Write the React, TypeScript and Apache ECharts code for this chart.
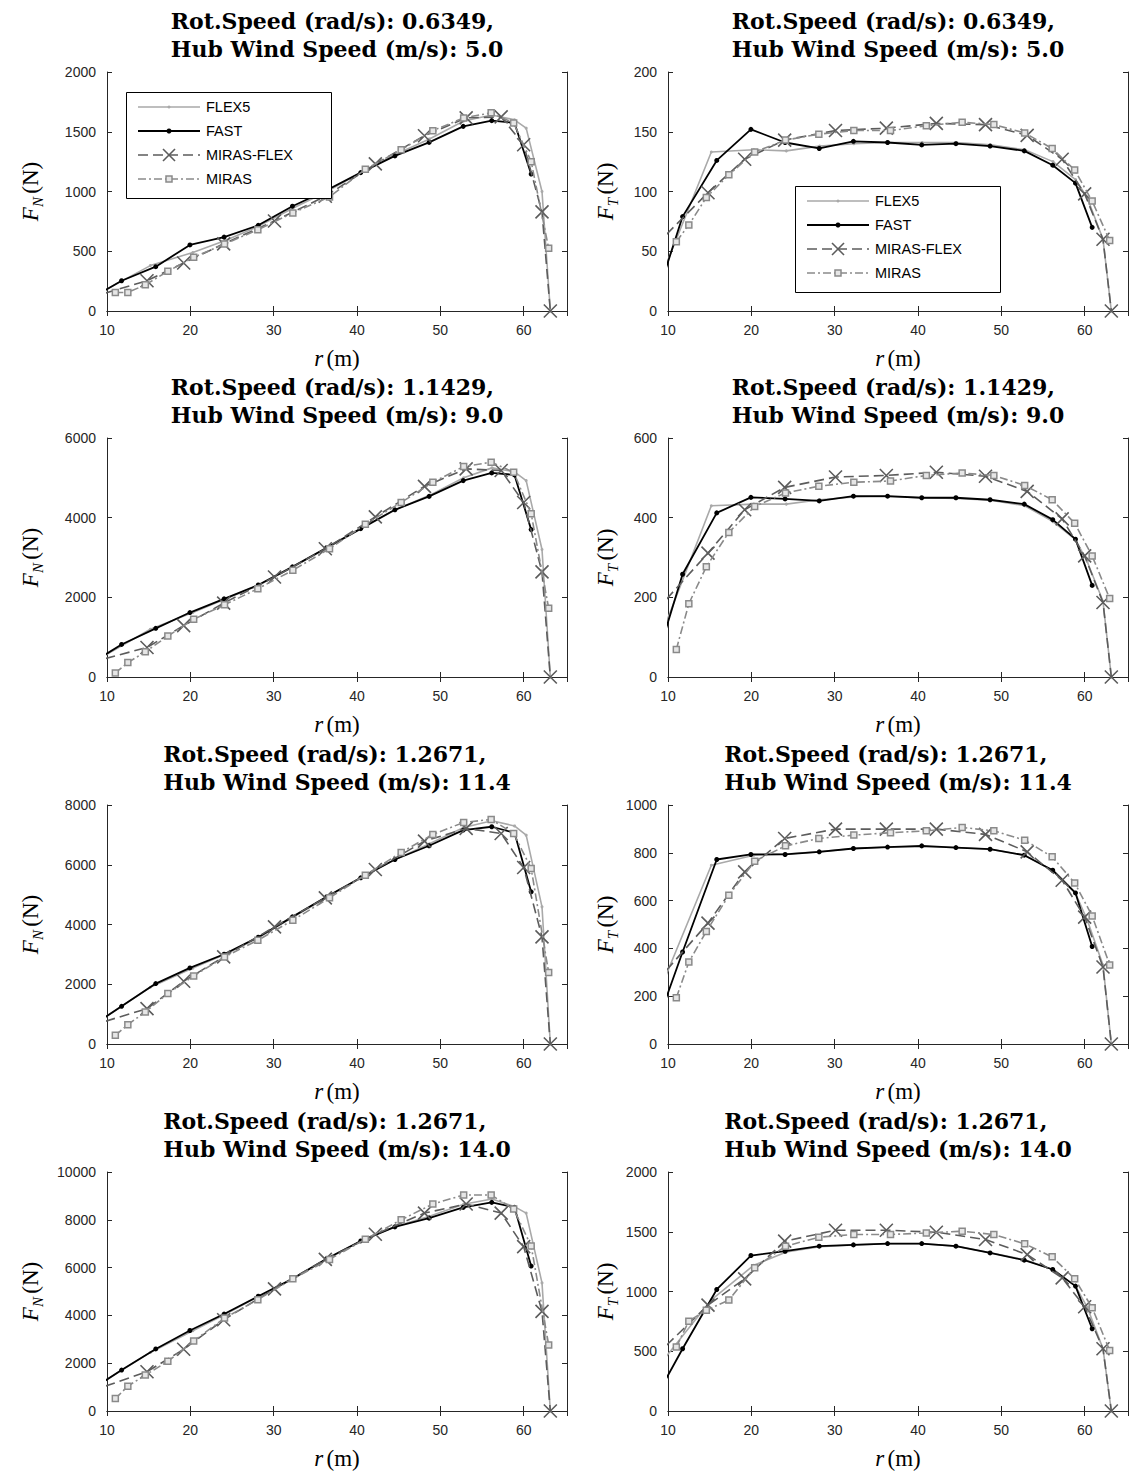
import React, { useEffect, useRef } from "react";
import * as echarts from "echarts";

// ---------- radial stations (m) of each data set ----------
const rFLEX5 = [8.0, 15.2, 20.3, 24.2, 28.2, 32.3, 36.4, 40.5, 44.6, 48.7, 52.8, 56.2, 58.9, 60.3, 62.2, 63.2];
const rFAST = [8.33, 11.75, 15.85, 19.95, 24.05, 28.15, 32.25, 36.35, 40.45, 44.55, 48.65, 52.75, 56.17, 58.9, 60.9];
const rMIRASFLEX = [9.8, 14.8, 19.2, 24.0, 30.1, 36.2, 42.2, 48.1, 53.1, 57.3, 60.0, 62.2, 63.2];
const rMIRAS = [11.0, 12.5, 14.6, 17.3, 20.4, 24.1, 28.1, 32.3, 36.7, 41.0, 45.3, 49.1, 52.8, 56.1, 58.8, 60.9, 63.0];

const seriesNames = ["FLEX5", "FAST", "MIRAS-FLEX", "MIRAS"];
const rotSpeeds = ["0.6349", "1.1429", "1.2671", "1.2671"];
const hubWindSpeeds = ["5.0", "9.0", "11.4", "14.0"];

const rMin = 10;
const rMax = 65.2;
const rStep = 10;
const fnMax = [2000, 6000, 8000, 10000];
const fnStep = [500, 2000, 2000, 2000];
const ftMax = [200, 600, 1000, 2000];
const ftStep = [50, 200, 200, 500];

// ---------- F_N (N) ----------
const fnFLEX5_5 = [107, 380, 490, 590, 710, 860, 1000, 1160, 1310, 1440, 1590, 1640, 1600, 1530, 1000, 0];
const fnFAST_5 = [116, 253, 371, 553, 618, 717, 877, 1010, 1158, 1298, 1411, 1545, 1593, 1574, 1146];
const fnMIRASFLEX_5 = [150, 253, 402, 562, 753, 960, 1231, 1467, 1616, 1624, 1391, 829, 0];
const fnMIRAS_5 = [155, 155, 219, 332, 450, 560, 680, 821, 955, 1186, 1349, 1509, 1616, 1658, 1574, 1250, 525];

const fnFLEX5_9 = [330, 1200, 1620, 1960, 2300, 2760, 3240, 3720, 4200, 4560, 5000, 5250, 5150, 4930, 3200, 0];
const fnFAST_9 = [373, 817, 1222, 1618, 1963, 2309, 2764, 3244, 3725, 4197, 4534, 4930, 5124, 5073, 3700];
const fnMIRASFLEX_9 = [463, 742, 1289, 1854, 2511, 3219, 4020, 4787, 5225, 5183, 4382, 2638, 0];
const fnMIRAS_9 = [101, 362, 632, 1028, 1449, 1812, 2216, 2680, 3219, 3834, 4382, 4888, 5284, 5393, 5140, 4100, 1728];

const fnFLEX5_11 = [568, 1900, 2540, 3000, 3560, 4240, 4910, 5560, 6180, 6700, 7250, 7470, 7300, 6990, 4590, 0];
const fnFAST_11 = [629, 1262, 2022, 2547, 3005, 3574, 4256, 4926, 5563, 6177, 6635, 7160, 7272, 7071, 5094];
const fnMIRASFLEX_11 = [760, 1184, 2100, 2915, 3921, 4893, 5842, 6791, 7216, 7048, 5909, 3586, 0];
const fnMIRAS_11 = [290, 648, 1072, 1687, 2279, 2915, 3474, 4144, 4893, 5652, 6412, 7015, 7417, 7517, 7048, 5875, 2390];

const fnFLEX5_14 = [884, 2450, 3360, 4050, 4790, 5520, 6360, 7110, 7720, 8150, 8650, 8870, 8550, 8280, 5360, 0];
const fnFAST_14 = [944, 1712, 2596, 3368, 4056, 4800, 5530, 6372, 7116, 7705, 8070, 8519, 8730, 8519, 6063];
const fnMIRASFLEX_14 = [1039, 1642, 2582, 3817, 5109, 6344, 7396, 8281, 8660, 8281, 6877, 4168, 0];
const fnMIRAS_14 = [519, 1039, 1502, 2077, 2933, 3888, 4660, 5530, 6344, 7186, 8000, 8660, 9038, 9038, 8449, 6905, 2765];

// ---------- F_T (N) ----------
const ftFLEX5_5 = [8, 133, 135, 134, 138, 140, 141, 141, 141, 139, 135, 125, 110, 95, 60, 0];
const ftFAST_5 = [5, 79, 126, 152, 141, 136, 142, 141, 139, 140, 138, 134, 122, 107, 70];
const ftMIRASFLEX_5 = [64, 99, 127, 143, 151, 153, 157, 156, 147, 127, 98, 60, 0];
const ftMIRAS_5 = [58, 72, 95, 114, 133, 143, 148, 151, 151, 155, 158, 156, 149, 136, 118, 92, 59];

const ftFLEX5_9 = [40, 430, 434, 434, 445, 452, 453, 450, 448, 444, 430, 390, 345, 290, 190, 0];
const ftFAST_9 = [23, 258, 412, 451, 447, 442, 454, 454, 450, 450, 445, 434, 395, 346, 230];
const ftMIRASFLEX_9 = [195, 311, 420, 476, 502, 506, 514, 504, 466, 397, 304, 187, 0];
const ftMIRAS_9 = [69, 184, 277, 363, 428, 462, 479, 489, 492, 506, 512, 506, 481, 445, 386, 304, 197];

const ftFLEX5_11 = [138, 748, 790, 795, 805, 818, 824, 826, 822, 815, 790, 725, 630, 520, 330, 0];
const ftFAST_11 = [51, 385, 772, 793, 793, 804, 818, 824, 829, 822, 815, 790, 727, 632, 408];
const ftMIRASFLEX_11 = [308, 506, 720, 860, 899, 899, 899, 877, 804, 685, 531, 322, 0];
const ftMIRAS_11 = [193, 343, 471, 622, 765, 829, 860, 874, 884, 892, 906, 892, 853, 783, 674, 536, 331];

const ftFLEX5_14 = [300, 930, 1220, 1330, 1375, 1390, 1400, 1400, 1380, 1325, 1265, 1185, 1045, 870, 520, 0];
const ftFAST_14 = [86, 521, 1017, 1301, 1337, 1379, 1390, 1401, 1401, 1379, 1323, 1262, 1184, 1045, 688];
const ftMIRASFLEX_14 = [549, 886, 1106, 1421, 1513, 1513, 1496, 1435, 1309, 1114, 872, 521, 0];
const ftMIRAS_14 = [535, 752, 844, 928, 1198, 1379, 1454, 1477, 1477, 1490, 1504, 1477, 1399, 1290, 1106, 864, 507];

const fnSets = [
  [fnFLEX5_5, fnFAST_5, fnMIRASFLEX_5, fnMIRAS_5],
  [fnFLEX5_9, fnFAST_9, fnMIRASFLEX_9, fnMIRAS_9],
  [fnFLEX5_11, fnFAST_11, fnMIRASFLEX_11, fnMIRAS_11],
  [fnFLEX5_14, fnFAST_14, fnMIRASFLEX_14, fnMIRAS_14],
];
const ftSets = [
  [ftFLEX5_5, ftFAST_5, ftMIRASFLEX_5, ftMIRAS_5],
  [ftFLEX5_9, ftFAST_9, ftMIRASFLEX_9, ftMIRAS_9],
  [ftFLEX5_11, ftFAST_11, ftMIRASFLEX_11, ftMIRAS_11],
  [ftFLEX5_14, ftFAST_14, ftMIRASFLEX_14, ftMIRAS_14],
];
const rSets = [rFLEX5, rFAST, rMIRASFLEX, rMIRAS];

// ---------- layout ----------
const colLeft = [107, 668];
const colWidth = [460, 460];
const rowTop = [72, 438, 805, 1172];
const rowHeight = 239;
const yNameX = [30, 605];
const legendBoxes = [
  { x: 126, y: 92 },
  { x: 795, y: 186 },
];

const AX = "#262626";
const SANS = "'Liberation Sans', Arial, sans-serif";
const SERIF = "'Liberation Serif', 'Times New Roman', serif";
const TITLE_FAMILY = "DejaVu Serif";
const TITLE_SIZE = 22;

const X_PATH = "path://M0,0L10,10M10,0L0,10";

const colors = ["#a9a9a9", "#000000", "#5c5c5c", "#8a8a8a"];
const dashes: any[] = [null, null, [10, 5], [8, 3, 2, 3]];
const widths = [1.6, 1.8, 1.6, 1.6];

const styles = [
  {
    symbol: "circle",
    symbolSize: 3,
    itemStyle: { color: colors[0], borderWidth: 0 },
  },
  {
    symbol: "circle",
    symbolSize: 5,
    itemStyle: { color: colors[1], borderWidth: 0 },
  },
  {
    symbol: X_PATH,
    symbolSize: 13,
    itemStyle: { color: "rgba(0,0,0,0)", borderColor: colors[2], borderWidth: 1.6 },
  },
  {
    symbol: "rect",
    symbolSize: 6,
    itemStyle: { color: "#e6e6e6", borderColor: colors[3], borderWidth: 1.5 },
  },
];

function measure(text: string): number {
  const c = document.createElement("canvas").getContext("2d");
  if (!c) return text.length * 13.7;
  c.font = `bold ${TITLE_SIZE}px "${TITLE_FAMILY}"`;
  return c.measureText(text).width;
}

function legendGraphics(bx: number, by: number): any[] {
  const out: any[] = [];
  const W = 205;
  const H = 106;
  out.push({
    type: "rect",
    z: 100,
    shape: { x: bx + 0.5, y: by + 0.5, width: W, height: H },
    style: { fill: "#fff", stroke: "#000", lineWidth: 1 },
  });
  for (let k = 0; k < 4; k++) {
    const cy = by + 15 + 24 * k;
    const x1 = bx + 12;
    const x2 = bx + 74;
    const cx = (x1 + x2) / 2;
    out.push({
      type: "line",
      z: 101,
      shape: { x1, y1: cy, x2, y2: cy },
      style: {
        stroke: colors[k],
        lineWidth: widths[k],
        lineDash: dashes[k] || undefined,
      },
    });
    if (k === 0 || k === 1) {
      out.push({
        type: "circle",
        z: 102,
        shape: { cx, cy, r: k === 0 ? 1.5 : 2.5 },
        style: { fill: colors[k] },
      });
    } else if (k === 2) {
      const s = 6;
      out.push({
        type: "line",
        z: 102,
        shape: { x1: cx - s, y1: cy - s, x2: cx + s, y2: cy + s },
        style: { stroke: colors[k], lineWidth: 1.6 },
      });
      out.push({
        type: "line",
        z: 102,
        shape: { x1: cx - s, y1: cy + s, x2: cx + s, y2: cy - s },
        style: { stroke: colors[k], lineWidth: 1.6 },
      });
    } else {
      out.push({
        type: "rect",
        z: 102,
        shape: { x: cx - 3, y: cy - 3, width: 6, height: 6 },
        style: { fill: "#e6e6e6", stroke: colors[k], lineWidth: 1.5 },
      });
    }
    out.push({
      type: "text",
      z: 102,
      x: bx + 80,
      y: cy,
      style: {
        text: seriesNames[k],
        fontFamily: SANS,
        fontSize: 14.5,
        fill: "#000",
        align: "left",
        textAlign: "left",
        verticalAlign: "middle",
        textVerticalAlign: "middle",
      },
    });
  }
  return out;
}

function buildOption() {
  const grid: any[] = [];
  const xAxis: any[] = [];
  const yAxis: any[] = [];
  const series: any[] = [];
  const graphic: any[] = [];

  for (let row = 0; row < 4; row++) {
    const line1 = `Rot.Speed (rad/s): ${rotSpeeds[row]},`;
    const line2 = `Hub Wind Speed (m/s): ${hubWindSpeeds[row]}`;
    const blockW = Math.max(measure(line1), measure(line2));
    for (let col = 0; col < 2; col++) {
      const g = grid.length;
      const left = colLeft[col];
      const width = colWidth[col];
      const top = rowTop[row];
      grid.push({ left, top, width, height: rowHeight, containLabel: false });

      const axisLine = { show: true, lineStyle: { color: AX, width: 1 } };
      const axisTick = { show: true, inside: true, length: 5, lineStyle: { color: AX, width: 1 } };
      xAxis.push({
        gridIndex: g,
        type: "value",
        position: "bottom",
        min: rMin,
        max: rMax,
        interval: rStep,
        axisLine,
        axisTick,
        splitLine: { show: false },
        axisLabel: {
          color: AX,
          fontSize: 14,
          fontFamily: SANS,
          margin: 12,
          showMaxLabel: false,
          formatter: (v: number) => String(v),
        },
      });
      xAxis.push({
        gridIndex: g,
        type: "value",
        position: "top",
        min: rMin,
        max: rMax,
        interval: rStep,
        axisLine,
        axisTick,
        splitLine: { show: false },
        axisLabel: { show: false },
      });
      const yMax = col === 0 ? fnMax[row] : ftMax[row];
      const yStep = col === 0 ? fnStep[row] : ftStep[row];
      yAxis.push({
        gridIndex: g,
        type: "value",
        position: "left",
        min: 0,
        max: yMax,
        interval: yStep,
        axisLine,
        axisTick,
        splitLine: { show: false },
        axisLabel: {
          color: AX,
          fontSize: 14,
          fontFamily: SANS,
          margin: 11,
          formatter: (v: number) => String(v),
        },
      });
      yAxis.push({
        gridIndex: g,
        type: "value",
        position: "right",
        min: 0,
        max: yMax,
        interval: yStep,
        axisLine,
        axisTick,
        splitLine: { show: false },
        axisLabel: { show: false },
      });

      const sets = col === 0 ? fnSets[row] : ftSets[row];
      for (let k = 0; k < 4; k++) {
        const rs = rSets[k];
        const vals = sets[k];
        series.push({
          type: "line",
          name: seriesNames[k],
          xAxisIndex: 2 * g,
          yAxisIndex: 2 * g,
          data: rs.map((r, i) => [r, vals[i]]),
          symbol: styles[k].symbol,
          symbolSize: styles[k].symbolSize,
          showSymbol: true,
          showAllSymbol: true,
          lineStyle: { color: colors[k], width: widths[k], type: dashes[k] || "solid" },
          itemStyle: styles[k].itemStyle,
          clip: true,
          silent: true,
          z: 2 + k,
          emphasis: { disabled: true },
        });
      }

      // title (two lines, left-aligned, block centred over the axes)
      const cx = left + width / 2;
      graphic.push({
        type: "text",
        x: cx - blockW / 2,
        y: top - 65.5,
        style: {
          text: `${line1}\n${line2}`,
          fontFamily: `'${TITLE_FAMILY}', serif`,
          fontWeight: "bold",
          fontSize: TITLE_SIZE,
          lineHeight: 28.4,
          fill: "#000",
          align: "left",
          textAlign: "left",
          verticalAlign: "top",
          textVerticalAlign: "top",
        },
      });
      // x axis name
      graphic.push({
        type: "text",
        x: cx,
        y: top + rowHeight + 47,
        style: {
          text: "{i|r} {n|(m)}",
          align: "center",
          textAlign: "center",
          verticalAlign: "middle",
          textVerticalAlign: "middle",
          rich: {
            i: { fontFamily: SERIF, fontStyle: "italic", fontSize: 23, fill: "#000", lineHeight: 30 },
            n: { fontFamily: SERIF, fontSize: 23, fill: "#000", lineHeight: 30 },
          },
        },
      });
      // y axis name
      graphic.push({
        type: "text",
        x: yNameX[col],
        y: top + rowHeight / 2,
        rotation: Math.PI / 2,
        style: {
          text: `{i|F}{s|${col === 0 ? "N" : "T"}} {n|(N)}`,
          align: "center",
          textAlign: "center",
          verticalAlign: "middle",
          textVerticalAlign: "middle",
          rich: {
            i: { fontFamily: SERIF, fontStyle: "italic", fontSize: 23, fill: "#000", lineHeight: 30 },
            s: {
              fontFamily: SERIF,
              fontStyle: "italic",
              fontSize: 15,
              fill: "#000",
              lineHeight: 30,
              verticalAlign: "bottom",
            },
            n: { fontFamily: SERIF, fontSize: 23, fill: "#000", lineHeight: 30 },
          },
        },
      });
    }
  }

  for (const b of legendBoxes) graphic.push(...legendGraphics(b.x, b.y));

  return {
    animation: false,
    backgroundColor: "#fff",
    grid,
    xAxis,
    yAxis,
    series,
    graphic,
  };
}

export default function App() {
  const ref = useRef<HTMLDivElement>(null);
  useEffect(() => {
    if (!ref.current) return;
    const chart = echarts.init(ref.current, undefined, { renderer: "svg" });
    chart.setOption(buildOption() as any);
    return () => chart.dispose();
  }, []);
  return (
    <div
      ref={ref}
      style={{ position: "absolute", left: 0, top: 0, width: 1129, height: 1475, background: "#fff" }}
    />
  );
}
